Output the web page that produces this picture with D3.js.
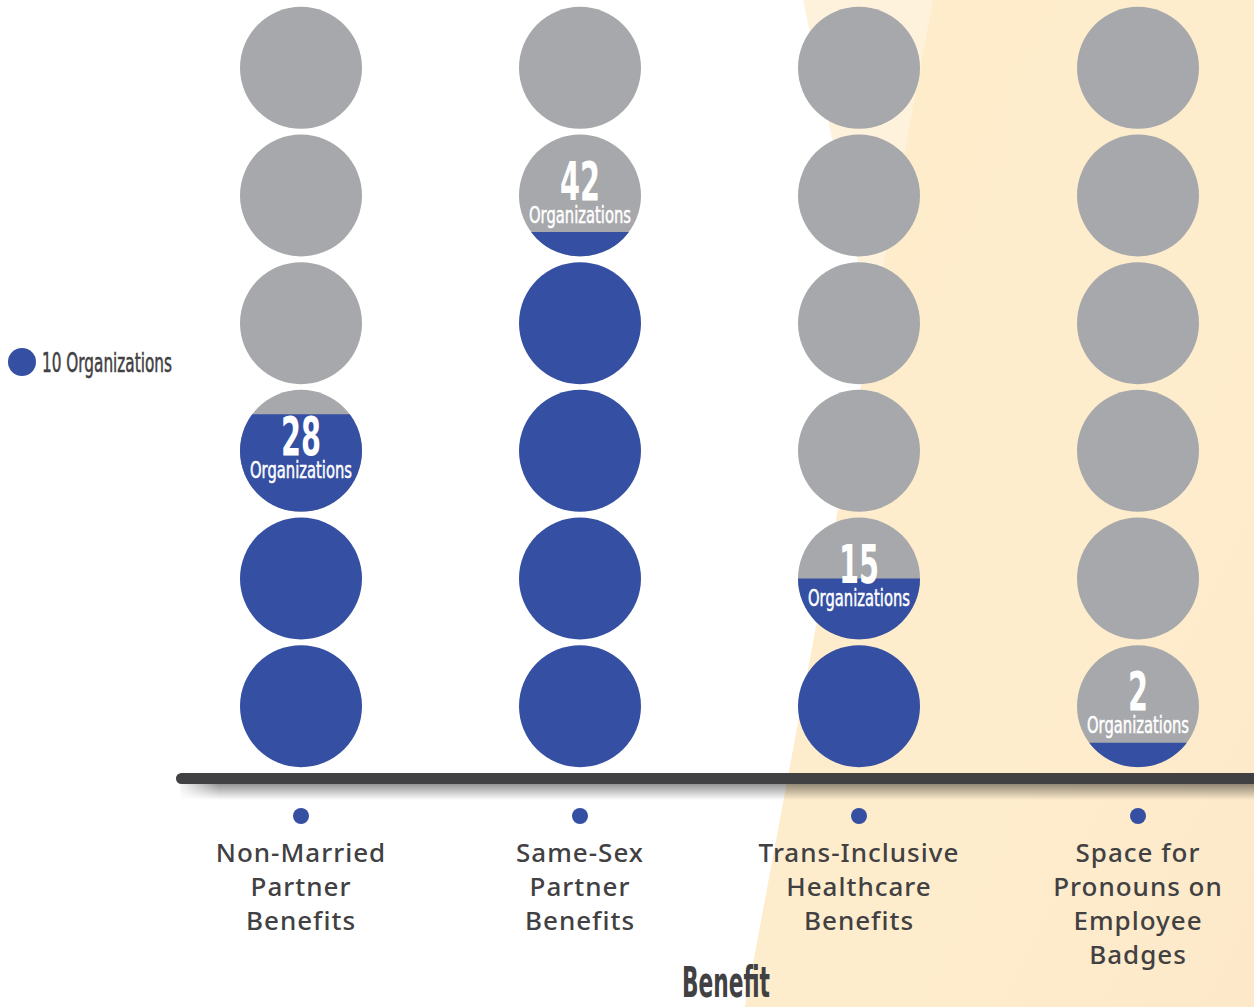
<!DOCTYPE html>
<html>
<head>
<meta charset="utf-8">
<script src="https://cdn.jsdelivr.net/npm/d3@7"></script>
<style>
  html, body { margin: 0; padding: 0; background: #fff; }
  svg { display: block; }
</style>
</head>
<body>
<div id="chart"></div>
<script>
// data (each circle = 10 organizations)
const benefits = ['Non-Married Partner Benefits', 'Same-Sex Partner Benefits', 'Trans-Inclusive Healthcare Benefits', 'Space for Pronouns on Employee Badges'];
const labelLines = [
  ['Non-Married', 'Partner', 'Benefits'],
  ['Same-Sex', 'Partner', 'Benefits'],
  ['Trans-Inclusive', 'Healthcare', 'Benefits'],
  ['Space for', 'Pronouns on', 'Employee', 'Badges']
];
const counts = [28, 42, 15, 2];
const unit = 10;
const slotCount = 6;
const legendLabel = '10 Organizations';
const axisTitle = 'Benefit';

const width = 1254, height = 1007;
const blue = '#354fa2', gray = '#a7a8ab', ink = '#414042';
const condensed = "'Liberation Sans Narrow', 'DejaVu Sans Condensed', 'Roboto', sans-serif";
const r = 61;

const svg = d3.select('#chart').append('svg')
  .attr('width', width)
  .attr('height', height);

const defs = svg.append('defs');

// background peach panels
const peach = defs.append('linearGradient').attr('id', 'peach')
  .attr('x1', 0).attr('y1', 0).attr('x2', 1).attr('y2', 1);
peach.append('stop').attr('offset', '0%').attr('stop-color', '#feecca');
peach.append('stop').attr('offset', '60%').attr('stop-color', '#feedcd');
peach.append('stop').attr('offset', '100%').attr('stop-color', '#fde9c9');

svg.append('path')
  .attr('d', 'M803,0 L1254,0 L1254,1007 L745,1007 L872,330 Z')
  .attr('fill', '#fef2dc');
svg.append('path')
  .attr('d', 'M933,0 L1254,0 L1254,1007 L745,1007 Z')
  .attr('fill', 'url(#peach)');

// scales
const x = d3.scalePoint().domain(benefits).range([301, 1138]);
const y = d3.scaleLinear().domain([0, unit * slotCount]).range([770, 4]);

// circles
const cells = [];
benefits.forEach((b, ci) => {
  d3.range(slotCount).forEach(si => {
    const frac = Math.max(0, Math.min(1, (counts[ci] - si * unit) / unit));
    cells.push({ b, ci, si, frac, cx: x(b), cy: y(si * unit + unit / 2) });
  });
});

cells.forEach((d, i) => {
  if (d.frac > 0 && d.frac < 1) {
    defs.append('clipPath').attr('id', 'clip' + i)
      .append('rect')
      .attr('x', d.cx - r)
      .attr('y', d.cy + r - 2 * r * d.frac)
      .attr('width', 2 * r)
      .attr('height', 2 * r * d.frac);
  }
});

const g = svg.append('g');
g.selectAll('circle.base')
  .data(cells)
  .enter()
  .append('circle')
  .attr('class', 'base')
  .attr('cx', d => d.cx)
  .attr('cy', d => d.cy)
  .attr('r', r)
  .attr('fill', d => d.frac >= 1 ? blue : gray);

g.selectAll('circle.part')
  .data(cells.map((d, i) => ({ ...d, i })).filter(d => d.frac > 0 && d.frac < 1))
  .enter()
  .append('circle')
  .attr('class', 'part')
  .attr('cx', d => d.cx)
  .attr('cy', d => d.cy)
  .attr('r', r)
  .attr('fill', blue)
  .attr('clip-path', d => `url(#clip${d.i})`);

// value labels in the partly filled circle (one text, two lines)
benefits.forEach((b, ci) => {
  const slot = Math.floor(counts[ci] / unit);
  const cx = x(b), cy = y(slot * unit + unit / 2);
  const num = String(counts[ci]);
  const t = g.append('text')
    .attr('text-anchor', 'middle')
    .attr('fill', '#fff')
    .style('font-family', condensed);
  t.append('tspan')
    .attr('x', cx).attr('y', cy + 4)
    .style('font-weight', 700)
    .style('font-size', '54px')
    .attr('textLength', num.length * 20)
    .attr('lengthAdjust', 'spacingAndGlyphs')
    .text(num);
  t.append('tspan')
    .attr('x', cx).attr('y', cy + 27)
    .attr('stroke', '#fff')
    .attr('stroke-width', 0.5)
    .style('font-size', '23px')
    .attr('textLength', 102)
    .attr('lengthAdjust', 'spacingAndGlyphs')
    .text('Organizations');
});

// axis bar with shadow
const shadow = defs.append('linearGradient').attr('id', 'shadow')
  .attr('x1', 0).attr('y1', 0).attr('x2', 0).attr('y2', 1);
shadow.append('stop').attr('offset', '0%').attr('stop-color', '#000').attr('stop-opacity', 0.42);
shadow.append('stop').attr('offset', '100%').attr('stop-color', '#000').attr('stop-opacity', 0);
const shadowFade = defs.append('linearGradient').attr('id', 'shadowFade');
shadowFade.append('stop').attr('offset', '0%').attr('stop-color', '#fff').attr('stop-opacity', 0);
shadowFade.append('stop').attr('offset', '4%').attr('stop-color', '#fff').attr('stop-opacity', 1);
defs.append('mask').attr('id', 'fadeMask')
  .append('rect').attr('x', 176).attr('y', 780).attr('width', width - 176).attr('height', 30)
  .attr('fill', 'url(#shadowFade)');

svg.append('rect')
  .attr('x', 180).attr('y', 784)
  .attr('width', width - 180).attr('height', 16)
  .attr('fill', 'url(#shadow)')
  .attr('mask', 'url(#fadeMask)');

svg.append('rect')
  .attr('x', 176).attr('y', 773)
  .attr('width', width - 176 + 10).attr('height', 11)
  .attr('rx', 5.5)
  .attr('fill', ink);

// category ticks and labels
const labels = svg.append('g');
benefits.forEach((b, ci) => {
  labels.append('circle')
    .attr('cx', x(b)).attr('cy', 816).attr('r', 8)
    .attr('fill', blue);
  const t = labels.append('text')
    .attr('text-anchor', 'middle')
    .attr('fill', ink)
    .style('font-family', "'Noto Sans', sans-serif")
    .style('font-weight', 500)
    .style('font-size', '26px')
    .style('letter-spacing', '1px');
  labelLines[ci].forEach((line, li) => {
    t.append('tspan')
      .attr('x', x(b))
      .attr('y', 862 + li * 34)
      .text(line);
  });
});

svg.append('text')
  .attr('x', 726).attr('y', 997)
  .attr('text-anchor', 'middle')
  .attr('fill', ink)
  .style('font-family', condensed)
  .style('font-weight', 700)
  .style('font-size', '42px')
  .attr('textLength', 88)
  .attr('lengthAdjust', 'spacingAndGlyphs')
  .text(axisTitle);

// legend
svg.append('circle').attr('cx', 22).attr('cy', 362).attr('r', 14).attr('fill', blue);
svg.append('text')
  .attr('x', 42).attr('y', 372)
  .attr('fill', ink)
  .attr('stroke', ink)
  .attr('stroke-width', 0.5)
  .style('font-family', condensed)
  .style('font-size', '26px')
  .attr('textLength', 130)
  .attr('lengthAdjust', 'spacingAndGlyphs')
  .text(legendLabel);
</script>
</body>
</html>
